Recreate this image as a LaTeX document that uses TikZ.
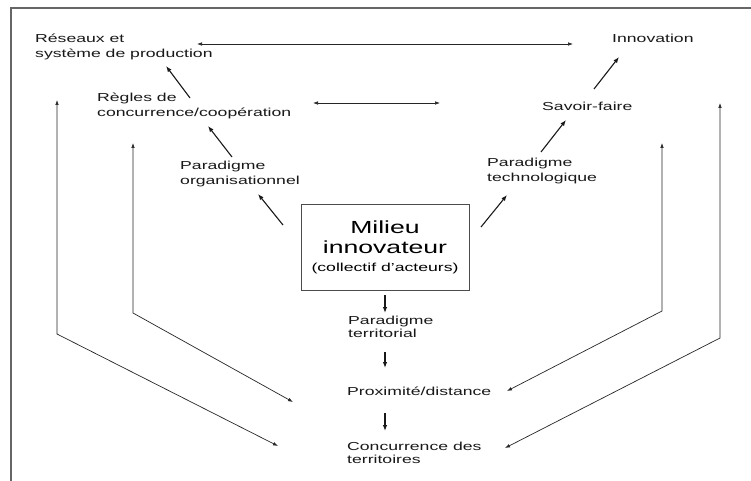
\documentclass[tikz,border=0pt]{standalone}
\usepackage{fontspec}
\setmainfont{Liberation Sans}[FakeStretch=1.52]
\usetikzlibrary{arrows.meta}
\begin{document}
\begin{tikzpicture}[x=1pt,y=-1pt,
  lbl/.style={anchor=base west, align=left, inner sep=0pt, text=black!90, font=\fontsize{11.6}{15}\selectfont},
  lbltwo/.style={lbl, font=\fontsize{11.6}{13}\selectfont},
  arr/.style={-{Latex[length=6pt,width=4.5pt]}, line width=1.1pt, draw=black!90},
  darr/.style={{Latex[length=5pt,width=3.6pt]}-{Latex[length=5pt,width=3.6pt]}, line width=0.7pt, draw=black!85},
  framel/.style={line width=1.4pt, draw=black!60}]
\useasboundingbox[fill=white] (0,0) rectangle (751,481);
% frame
\coordinate (fc) at (11,8);
\coordinate (fb) at (11,481);
\coordinate (fr) at (751,8);
\draw[framel] (fb) -- (fc) -- (fr);
% nodes (base = baseline of last line)
\node[lbl] (reseaux) at (35,58) {Réseaux et\\système de production};
\node[lbl] (innov) at (612,43) {Innovation};
\node[lbl] (regles) at (97,117) {Règles de\\concurrence/coopération};
\node[lbl] (savoir) at (542,111) {Savoir-faire};
\node[lbl] (porg) at (180,184) {Paradigme\\organisationnel};
\node[lbl] (ptech) at (487,182) {Paradigme\\technologique};
\node[draw=black!70, line width=0.8pt, minimum width=168pt, minimum height=86pt, inner sep=0pt, align=center, font=\fontsize{17.5}{20}\selectfont] (milieu) at (385,247)
  {Milieu\\innovateur\\[-2pt]{\fontsize{11.6}{13}\selectfont (collectif d’acteurs)}};
\node[lbltwo] (pterr) at (348,337) {Paradigme\\territorial};
\node[lbltwo] (prox) at (347,395) {Proximité/distance};
\node[lbltwo] (conc) at (347,463) {Concurrence des\\territoires};
% connector end points
\coordinate (d1a) at (197,44);  \coordinate (d1b) at (573,44);
\coordinate (d2a) at (313,103); \coordinate (d2b) at (440,103);
\coordinate (r1s) at (190,98);  \coordinate (r1e) at (166,66);
\coordinate (r2s) at (232,157); \coordinate (r2e) at (208,126);
\coordinate (r3s) at (283,225); \coordinate (r3e) at (258,194);
\coordinate (t1s) at (481,227); \coordinate (t1e) at (507,195);
\coordinate (t2s) at (541,152); \coordinate (t2e) at (566,120);
\coordinate (t3s) at (594,89);  \coordinate (t3e) at (619,57);
\coordinate (v1s) at (385,295); \coordinate (v1e) at (385,313);
\coordinate (v2s) at (385,352); \coordinate (v2e) at (385,368);
\coordinate (v3s) at (385,413); \coordinate (v3e) at (385,431);
\coordinate (lo1) at (57,100);  \coordinate (lo2) at (57,334);  \coordinate (lo3) at (278,446);
\coordinate (li1) at (133,143); \coordinate (li2) at (133,313); \coordinate (li3) at (293,402);
\coordinate (ri1) at (662,143); \coordinate (ri2) at (662,311); \coordinate (ri3) at (507,391);
\coordinate (ro1) at (720,103); \coordinate (ro2) at (720,338); \coordinate (ro3) at (505,448);
% connectors
\draw[darr] (d1a) -- (d1b);
\draw[darr] (d2a) -- (d2b);
\draw[arr] (r1s) -- (r1e);
\draw[arr] (r2s) -- (r2e);
\draw[arr] (r3s) -- (r3e);
\draw[arr] (t1s) -- (t1e);
\draw[arr] (t2s) -- (t2e);
\draw[arr] (t3s) -- (t3e);
\draw[arr] (v1s) -- (v1e);
\draw[arr] (v2s) -- (v2e);
\draw[arr] (v3s) -- (v3e);
\draw[darr] (lo1) -- (lo2) -- (lo3);
\draw[darr] (li1) -- (li2) -- (li3);
\draw[darr] (ri1) -- (ri2) -- (ri3);
\draw[darr] (ro1) -- (ro2) -- (ro3);
\end{tikzpicture}
\end{document}
